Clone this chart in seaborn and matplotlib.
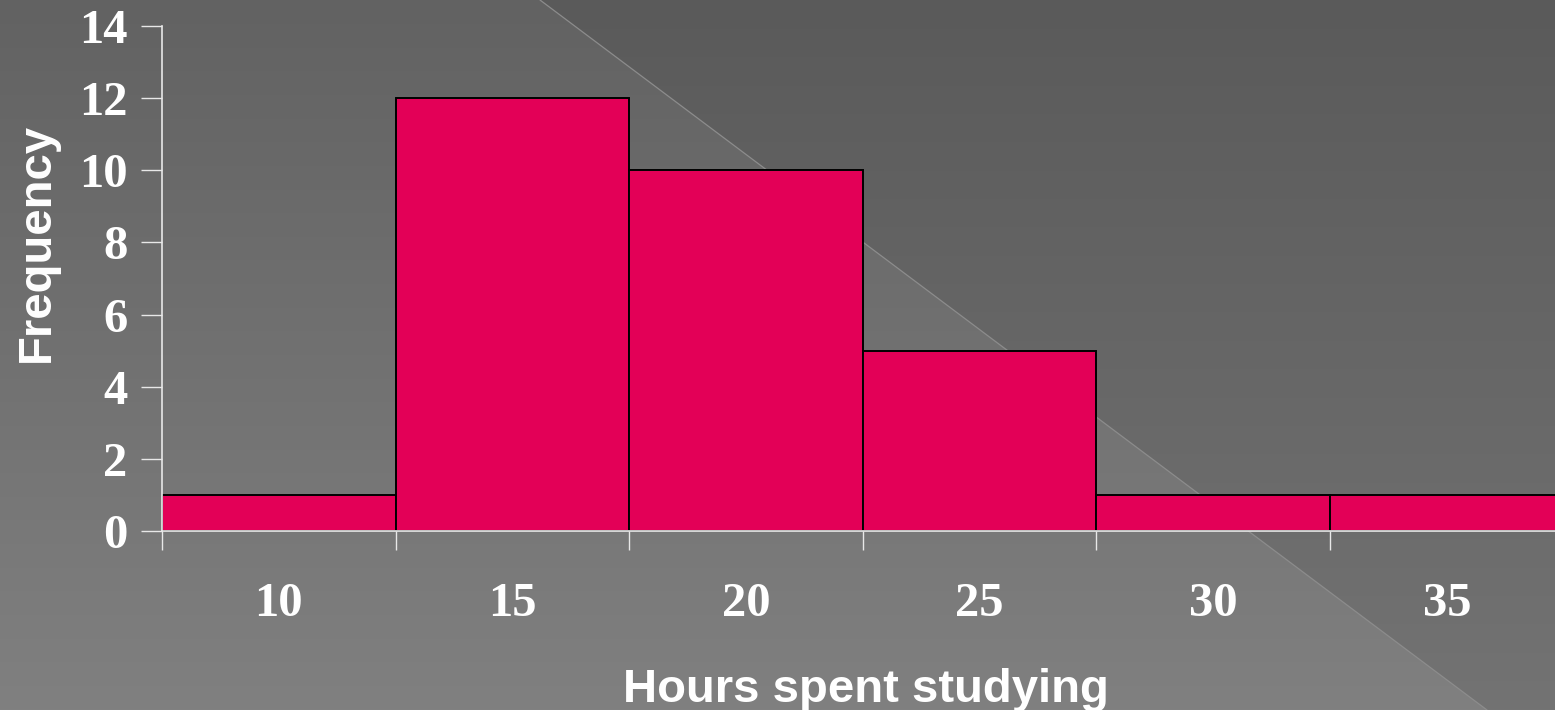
import numpy as np
import pandas as pd
import matplotlib
matplotlib.use("Agg")
import matplotlib.pyplot as plt
import seaborn as sns

# Histogram of weekly study hours
hours = ["10", "15", "20", "25", "30", "35"]
frequency = [1, 12, 10, 5, 1, 1]
y_ticks = [0, 2, 4, 6, 8, 10, 12, 14]

sns.set_theme(style="white")
plt.rcParams["font.family"] = ["Liberation Serif", "DejaVu Serif"]

W, H = 1555, 710
fig = plt.figure(figsize=(W / 100, H / 100), dpi=100)

# Slide background: vertical gray gradient, darker beyond a diagonal line
bg = fig.add_axes([0, 0, 1, 1], zorder=-10)
yy, xx = np.mgrid[0:H, 0:W]
t = yy / (H - 1)
light = 0x62 + (0x80 - 0x62) * t
dark = 0x5a + (0x73 - 0x5a) * t
x0, x1 = 540.0, 1487.0
line_x = x0 + (x1 - x0) * yy / H
shade = np.where(xx > line_x, dark, light) / 255.0
bg.imshow(np.dstack([shade] * 3), extent=[0, W, H, 0], aspect="auto",
          interpolation="bilinear")
bg.plot([x0, x1], [0, H], color="#8c8c8c", lw=0.9)
bg.set_xlim(0, W)
bg.set_ylim(H, 0)
bg.axis("off")

# Plot area
left = 162 / W
bottom = (H - 531) / H
top = (H - 26) / H
ax = fig.add_axes([left, bottom, 1 - left, top - bottom])
ax.patch.set_alpha(0)

df = pd.DataFrame({"hours": hours, "frequency": frequency})
sns.barplot(data=df, x="hours", y="frequency", width=1.0, color="#E30057",
            saturation=1, edgecolor="black", linewidth=1.4, ax=ax)

unit = 233.6
ax.set_xlim(-0.5, -0.5 + (W - 162) / unit)
ax.set_ylim(0, 14)

# Ticks at bin edges, labels centred under bars
ax.set_xticks(np.arange(-0.5, 5.0, 1.0))
ax.set_xticklabels([])
ax.set_xticks(np.arange(len(hours)), minor=True)
ax.set_xticklabels(hours, minor=True)
ax.tick_params(axis="x", which="major", direction="out", length=14,
               width=1, color="#e8e8e8", bottom=True)
ax.tick_params(axis="x", which="minor", length=0, pad=37, labelsize=35,
               labelcolor="white")
for lab in ax.get_xticklabels(minor=True):
    lab.set_fontweight("bold")

ax.set_yticks(y_ticks)
ax.set_yticklabels([str(v) for v in y_ticks])
ax.tick_params(axis="y", direction="out", length=15, width=1,
               color="#e8e8e8", left=True, pad=10, labelsize=35,
               labelcolor="white")
for lab in ax.get_yticklabels():
    lab.set_fontweight("bold")

for side in ("top", "right"):
    ax.spines[side].set_visible(False)
for side in ("left", "bottom"):
    ax.spines[side].set_color("#e8e8e8")
    ax.spines[side].set_linewidth(1.2)
    ax.spines[side].set_zorder(5)

ax.set_xlabel("")
ax.set_ylabel("")
fig.text(866 / W, 1 - 690 / H, "Hours spent studying", ha="center",
         va="center", color="white", fontsize=34, fontweight="bold",
         family=["Liberation Sans", "DejaVu Sans"])
fig.text(37 / W, 1 - 242 / H, "Frequency", ha="center", va="center",
         rotation=90, color="white", fontsize=34, fontweight="bold",
         family=["Liberation Sans", "DejaVu Sans"])

fig.savefig("out.png", dpi=100)
